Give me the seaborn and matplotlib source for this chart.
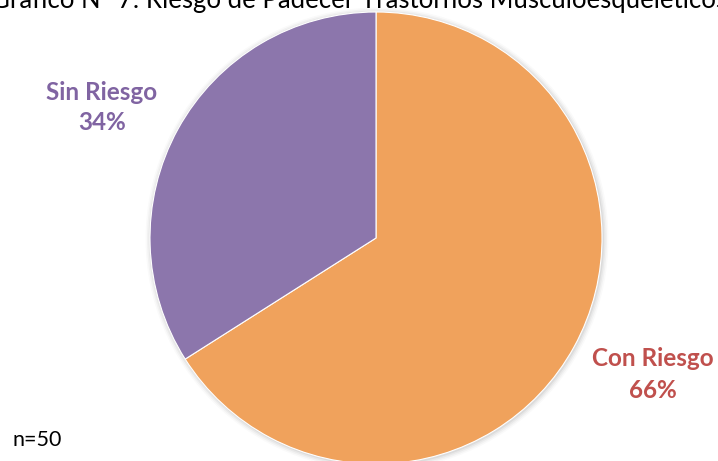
import matplotlib
matplotlib.use("Agg")
import matplotlib.pyplot as plt
import seaborn as sns

# Data
categories = ["Con Riesgo", "Sin Riesgo"]
values = [66, 34]
title = "Gráfico N° 7: Riesgo de Padecer Trastornos Musculoesqueléticos"
note = "n=50"

sns.set_theme(style="white")
plt.rcParams["font.family"] = ["Lato", "DejaVu Sans"]

W, H = 718, 461
fig = plt.figure(figsize=(W / 100, H / 100), dpi=100)
ax = fig.add_axes([0, 0, 1, 1])

slice_colors = ["#F0A25C", "#8C76AC"]
label_colors = ["#C0504D", "#8064A2"]

cx, cy, r = 376, H - 238, 226

# soft shadow under the pie
for i, a in enumerate([0.05, 0.04, 0.03, 0.02]):
    ax.add_patch(plt.Circle((cx + 1, cy - 1), r + 1 + i * 1.5,
                            color="black", alpha=a, lw=0, zorder=0))

ax.pie(values, colors=slice_colors, startangle=90, counterclock=False,
       center=(cx, cy), radius=r, frame=True,
       wedgeprops=dict(linewidth=0.8, edgecolor="white", zorder=2))
ax.set_xlim(0, W)
ax.set_ylim(0, H)
ax.set_aspect("equal")
ax.axis("off")

# category name and percentage, one line each
label_pos = [(653, H - 359, H - 390), (102, H - 92, H - 122)]
for name, v, (x, y1, y2), c in zip(categories, values, label_pos, label_colors):
    ax.text(x, y1, name, ha="center", va="center", fontsize=17.5,
            fontweight="bold", color=c)
    ax.text(x, y2, f"{v}%", ha="center", va="center", fontsize=17.5,
            fontweight="bold", color=c)

fig.text(0.5, 1 - 8 / H, title, ha="center", va="baseline", fontsize=18.5,
         color="#000000")
ax.text(12, H - 440, note, ha="left", va="center", fontsize=15.5,
        color="#000000")

fig.savefig("out.png", dpi=100)
